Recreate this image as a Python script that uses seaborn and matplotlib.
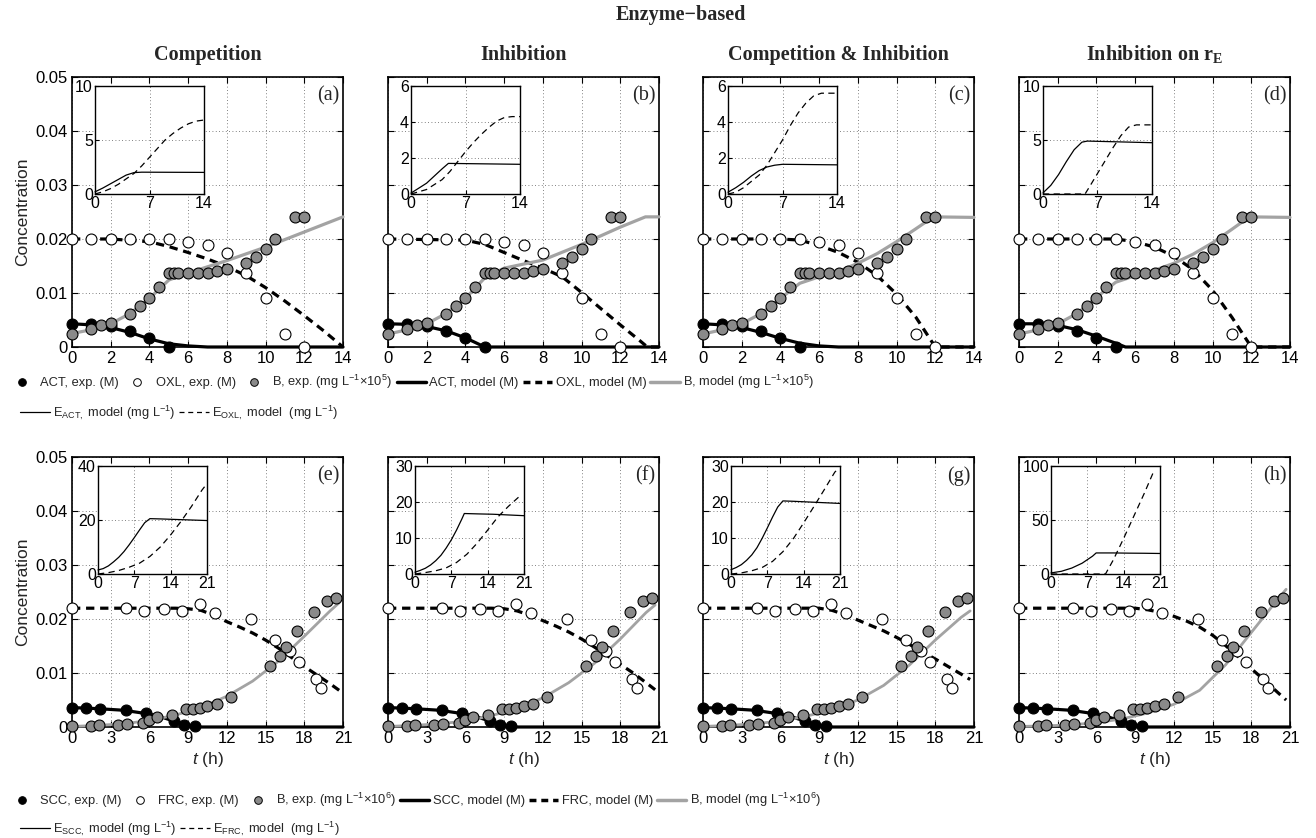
import matplotlib
matplotlib.use('Agg')
import matplotlib.pyplot as plt
import seaborn as sns
from matplotlib.lines import Line2D

sns.set_style('ticks')
plt.rcParams['font.family'] = ['Liberation Sans', 'DejaVu Sans']
plt.rcParams['mathtext.fontset'] = 'custom'
plt.rcParams['mathtext.rm'] = 'Liberation Sans'
plt.rcParams['mathtext.it'] = 'Liberation Sans:italic'
plt.rcParams['mathtext.bf'] = 'Liberation Sans:bold'

# ---- experimental data, top row (ACT / OXL), shared by panels a-d
act_t = [0, 1, 2, 3, 4, 5]
act_c = [0.0043, 0.0043, 0.0039, 0.0029, 0.0017, 0.0]
oxl_t = [0, 1, 2, 3, 4, 5, 6, 7, 8, 9, 10, 11, 12]
oxl_c = [0.02, 0.02, 0.02, 0.02, 0.02, 0.02, 0.0194, 0.0189, 0.0174, 0.0137, 0.0091, 0.0024, 0.0]
bt_t = [0, 1, 1.5, 2, 3, 3.5, 4, 4.5, 5, 5.25, 5.5, 6, 6.5, 7, 7.5, 8, 9, 9.5, 10, 10.5, 11.5, 12]
bt_c = [0.0024, 0.0033, 0.0040, 0.0044, 0.0061, 0.0075, 0.0090, 0.0111, 0.0137, 0.0137, 0.0137,
        0.0137, 0.0137, 0.0137, 0.0141, 0.0144, 0.0156, 0.0167, 0.0181, 0.0200, 0.0241, 0.0241]

# ---- experimental data, bottom row (SCC / FRC), shared by panels e-h
scc_t = [0, 1.1, 2.2, 4.2, 5.7, 7.9, 8.7, 9.5]
scc_c = [0.0035, 0.0035, 0.0034, 0.0031, 0.0026, 0.0011, 0.0003, 0.0002]
frc_t = [0, 4.2, 5.6, 7.1, 8.5, 9.9, 11.1, 13.9, 15.7, 16.9, 17.6, 18.9, 19.3]
frc_c = [0.022, 0.022, 0.0215, 0.0219, 0.0215, 0.0227, 0.0211, 0.0200, 0.0161, 0.0141, 0.0120, 0.0089, 0.0072]
bb_t = [0, 1.5, 2.1, 3.6, 4.3, 5.5, 6.0, 6.6, 7.75, 8.85, 9.4, 9.9, 10.5, 11.2, 12.3,
        15.35, 16.1, 16.6, 17.45, 18.75, 19.75, 20.45]
bb_c = [0.0002, 0.0002, 0.0003, 0.0004, 0.0006, 0.0008, 0.0013, 0.0018, 0.0022, 0.0033, 0.0033,
        0.0036, 0.0039, 0.0042, 0.0056, 0.0113, 0.0131, 0.0148, 0.0178, 0.0213, 0.0233, 0.0239]

# ---- model curves, top row (one list per panel a, b, c, d)
act_m_t = [[0, 1, 2, 3, 4, 5, 6, 7, 14], [0, 1, 2, 3, 4, 5, 14],
           [0, 1, 2, 3, 4, 5, 6, 7, 14], [0, 1, 2, 3, 4, 5, 5.5, 14]]
act_m_c = [[0.0043, 0.0041, 0.0036, 0.0027, 0.0015, 0.0006, 0.0002, 0.0, 0.0],
           [0.0043, 0.0042, 0.0038, 0.0030, 0.0017, 0.0, 0.0],
           [0.0043, 0.0041, 0.0036, 0.0027, 0.0016, 0.0007, 0.0002, 0.0, 0.0],
           [0.0043, 0.0043, 0.0040, 0.0032, 0.0020, 0.0007, 0.0, 0.0]]
oxl_m_t = [[0, 2, 4, 5, 6, 7, 8, 9, 10, 11, 12, 13, 14],
           [0, 4, 5, 6, 7, 8, 9, 10, 11, 12, 13, 13.4, 14],
           [0, 4, 5, 6, 7, 8, 9, 10, 11, 12, 14],
           [0, 5, 6, 7, 8, 9, 10, 11, 12, 14]]
oxl_m_c = [[0.02, 0.02, 0.0195, 0.0186, 0.0175, 0.0163, 0.0149, 0.0132, 0.0110, 0.0085, 0.0058, 0.0030, 0.0],
           [0.02, 0.0198, 0.0190, 0.0175, 0.0160, 0.0146, 0.0130, 0.0101, 0.0071, 0.0041, 0.0012, 0.0, 0.0],
           [0.02, 0.02, 0.0198, 0.0188, 0.0175, 0.0157, 0.0132, 0.0098, 0.0055, 0.0, 0.0],
           [0.02, 0.02, 0.0195, 0.0185, 0.0168, 0.0143, 0.0105, 0.0055, 0.0, 0.0]]
bt_m_t = [[0, 1, 2, 3, 4, 5, 6, 8, 10, 12, 14],
          [0, 1, 2, 3, 4, 5, 6, 8, 10, 12, 13.3, 14],
          [0, 1, 2, 3, 4, 5, 6, 7, 8, 9, 10, 11, 11.9, 14],
          [0, 1, 2, 3, 4, 5, 6, 7, 8, 9, 10, 11, 11.9, 14]]
bt_m_c = [[0.0025, 0.0032, 0.0043, 0.0062, 0.0090, 0.0124, 0.0137, 0.0160, 0.0185, 0.0213, 0.0241],
          [0.0024, 0.0032, 0.0043, 0.0062, 0.0090, 0.0128, 0.0146, 0.0161, 0.0190, 0.0222, 0.0241, 0.0241],
          [0.0024, 0.0032, 0.0043, 0.0062, 0.0090, 0.0118, 0.0130, 0.0140, 0.0155, 0.0173, 0.0195, 0.0219,
           0.0241, 0.0240],
          [0.0024, 0.0032, 0.0043, 0.0062, 0.0092, 0.0120, 0.0132, 0.0142, 0.0155, 0.0172, 0.0193, 0.0218,
           0.0241, 0.0240]]

# ---- enzyme insets, top row
eact_t = [[0, 1, 2, 3, 4, 5, 6, 14], [0, 2, 3, 4, 4.8, 14],
          [0, 1, 2, 3, 4, 5, 6, 7, 14], [0, 1, 2, 3, 4, 5, 5.7, 14]]
eact_v = [[0.2, 0.55, 0.95, 1.35, 1.75, 1.98, 2.02, 2.0], [0.05, 0.6, 1.0, 1.4, 1.7, 1.65],
          [0.1, 0.35, 0.65, 1.0, 1.3, 1.5, 1.6, 1.65, 1.62], [0.1, 0.8, 1.8, 3.0, 4.1, 4.8, 4.9, 4.75]]
eoxl_t = [[0, 1, 2, 3, 4, 5, 6, 7, 8, 9, 10, 11, 12, 13, 14],
          [0, 2, 4, 5, 6, 7, 8, 9, 10, 11, 12, 13, 14],
          [0, 1, 2, 3, 4, 5, 6, 7, 8, 9, 10, 11, 12, 13, 14],
          [0, 5.4, 6, 7, 8, 9, 10, 11, 12, 14]]
eoxl_v = [[0, 0.2, 0.5, 0.9, 1.4, 1.9, 2.6, 3.4, 4.2, 5.0, 5.6, 6.1, 6.5, 6.75, 6.85],
          [0, 0.25, 0.8, 1.25, 1.8, 2.35, 2.85, 3.3, 3.7, 4.05, 4.25, 4.3, 4.3],
          [0, 0.1, 0.35, 0.7, 1.05, 1.6, 2.3, 3.0, 3.8, 4.5, 5.05, 5.45, 5.6, 5.6, 5.6],
          [0, 0, 0.7, 1.9, 3.1, 4.3, 5.4, 6.2, 6.4, 6.4]]

# ---- model curves, bottom row (panels e, f, g, h)
scc_m_t = [[0, 2, 4, 6, 7, 8, 9, 9.6, 21]] * 4
scc_m_c = [[0.0036, 0.0034, 0.0031, 0.0024, 0.0018, 0.0010, 0.0003, 0.0, 0.0]] * 4
frc_m_t = [[0, 8, 9, 10, 11, 12, 13, 14, 15, 16, 17, 18, 19, 20, 20.7],
           [0, 8, 9, 10, 11, 12, 13, 14, 15, 16, 17, 18, 19, 20, 20.7],
           [0, 8, 9, 10, 11, 12, 13, 14, 15, 16, 17, 18, 19, 20, 20.7],
           [0, 9, 10, 11, 12, 13, 14, 15, 16, 17, 18, 19, 20, 20.7]]
frc_m_c = [[0.022, 0.022, 0.0219, 0.0216, 0.0207, 0.0195, 0.0185, 0.0174, 0.0161, 0.0146, 0.0129, 0.0112,
            0.0096, 0.0080, 0.0068],
           [0.022, 0.022, 0.0219, 0.0215, 0.0207, 0.0197, 0.0187, 0.0176, 0.0163, 0.0148, 0.0132, 0.0116,
            0.0100, 0.0082, 0.0069],
           [0.022, 0.022, 0.022, 0.0216, 0.0208, 0.0198, 0.0188, 0.0178, 0.0166, 0.0153, 0.0139, 0.0126,
            0.0112, 0.0098, 0.0088],
           [0.022, 0.022, 0.0217, 0.0212, 0.0205, 0.0196, 0.0185, 0.0170, 0.0151, 0.0130, 0.0108, 0.0087,
            0.0065, 0.0050]]
bb_m_t = [[0, 2, 4, 6, 8, 10, 12, 14, 16, 18, 20, 20.7]] * 4
bb_m_c = [[0.0001, 0.0003, 0.0006, 0.0012, 0.0022, 0.0036, 0.0057, 0.0085, 0.0122, 0.0168, 0.0215, 0.0230],
          [0.0001, 0.0003, 0.0006, 0.0011, 0.0021, 0.0034, 0.0054, 0.0082, 0.0118, 0.0163, 0.0212, 0.0226],
          [0.0001, 0.0003, 0.0006, 0.0011, 0.0020, 0.0032, 0.0050, 0.0077, 0.0115, 0.0161, 0.0203, 0.0215],
          [0.0001, 0.0002, 0.0004, 0.0008, 0.0015, 0.0026, 0.0042, 0.0068, 0.0115, 0.0175, 0.0235, 0.0255]]

# ---- enzyme insets, bottom row
escc_t = [[0, 1, 2, 3, 4, 5, 6, 7, 8, 9, 10, 12, 15, 18, 21],
          [0, 1, 2, 3, 4, 5, 6, 7, 8, 9, 9.5, 12, 15, 18, 21],
          [0, 1, 2, 3, 4, 5, 6, 7, 8, 9, 10, 12, 15, 18, 21],
          [0, 2, 4, 6, 8, 8.7, 12, 15, 18, 21]]
escc_v = [[1.5, 2.0, 3.0, 4.5, 6.2, 8.3, 10.8, 13.5, 16.3, 19.0, 20.5, 20.4, 20.2, 20.0, 19.8],
          [0.5, 1.0, 1.6, 2.5, 3.7, 5.2, 7.2, 9.5, 12.2, 15.2, 16.8, 16.7, 16.6, 16.4, 16.2],
          [1.2, 1.8, 2.6, 3.8, 5.3, 7.3, 9.9, 12.8, 15.8, 18.6, 20.3, 20.2, 20.0, 19.8, 19.6],
          [1.0, 2.5, 5.5, 10.0, 16.5, 19.5, 19.5, 19.3, 19.2, 19.0]]
efrc_t = [[0, 2, 4, 6, 8, 10, 12, 14, 16, 18, 20, 21],
          [0, 2, 4, 6, 8, 10, 12, 14, 16, 18, 20, 20.5],
          [0, 2, 4, 6, 8, 10, 12, 14, 16, 18, 20, 20.5],
          [0, 10.5, 12, 14, 16, 18, 19.7]]
efrc_v = [[0, 0.5, 1.3, 2.5, 4.0, 6.5, 10.0, 14.5, 19.5, 25.0, 31.0, 33.5],
          [0, 0.4, 0.9, 1.7, 3.2, 5.5, 8.6, 12.2, 15.9, 18.8, 21.4, 22.0],
          [0, 0.3, 0.9, 1.8, 3.5, 6.2, 9.8, 14.2, 18.8, 23.5, 28.3, 29.0],
          [0, 0, 13, 33, 54, 75, 94]]

col_titles = ['Competition', 'Inhibition', 'Competition & Inhibition', 'Inhibition on r$_{\\mathregular{E}}$']
letters_top = ['(a)', '(b)', '(c)', '(d)']
letters_bot = ['(e)', '(f)', '(g)', '(h)']
conc_ticks = [0, 0.01, 0.02, 0.03, 0.04, 0.05]
conc_labels = ['0', '0.01', '0.02', '0.03', '0.04', '0.05']
inset_top_max = [10, 6, 6, 10]
inset_top_ticks = [[0, 5, 10], [0, 2, 4, 6], [0, 2, 4, 6], [0, 5, 10]]
inset_bot_max = [40, 30, 30, 100]
inset_bot_ticks = [[0, 20, 40], [0, 10, 20, 30], [0, 10, 20, 30], [0, 50, 100]]

W, H = 1316, 838
fig = plt.figure(figsize=(W / 100, H / 100), dpi=100)

BLACK, WHITE, GREYM, GREYL = 'black', 'white', '#8a8a8a', '#a3a3a3'
THICK_DASH = (0, (2.6, 1.8))
THIN_DASH = (0, (5, 3.5))


def px_axes(x0, y0, x1, y1):
    return fig.add_axes([x0 / W, 1 - y1 / H, (x1 - x0) / W, (y1 - y0) / H])


def style(ax, lw=1.2):
    for s in ax.spines.values():
        s.set_linewidth(lw)
        s.set_color('black')
    ax.tick_params(direction='in', top=True, right=True, length=4, width=0.8, colors='black', pad=3)
    ax.grid(True, linestyle=(0, (1, 3)), color='0.35', linewidth=0.6)
    ax.set_axisbelow(True)


def line(ax, t, c, color, lw, ls='-', z=3):
    sns.lineplot(x=t, y=c, ax=ax, color=color, linewidth=lw, linestyle=ls,
                 estimator=None, sort=False, legend=False, zorder=z, clip_on=False)


def dots(ax, t, c, fc):
    sns.scatterplot(x=t, y=c, ax=ax, color=fc, edgecolor='black', linewidth=0.8, s=62,
                    zorder=5, clip_on=False, legend=False)


lefts = [72, 388, 703, 1019]
AW = 271
inset_left_top = [95, 411, 728, 1043]
inset_left_bot = [98, 415, 731, 1051]

for row in range(2):
    y0, y1 = (77, 347) if row == 0 else (457, 727)
    tmax = 14 if row == 0 else 21
    for k in range(4):
        ax = px_axes(lefts[k], y0, lefts[k] + AW, y1)
        style(ax)
        if row == 0:
            line(ax, act_m_t[k], act_m_c[k], BLACK, 2.3)
            line(ax, oxl_m_t[k], oxl_m_c[k], BLACK, 2.3, THICK_DASH)
            line(ax, bt_m_t[k], bt_m_c[k], GREYL, 2.3)
            dots(ax, act_t, act_c, BLACK)
            dots(ax, oxl_t, oxl_c, WHITE)
            dots(ax, bt_t, bt_c, GREYM)
            ax.set_xticks(range(0, 15, 2))
            ax.set_xlabel('')
        else:
            line(ax, scc_m_t[k], scc_m_c[k], BLACK, 2.3)
            line(ax, frc_m_t[k], frc_m_c[k], BLACK, 2.3, THICK_DASH)
            line(ax, bb_m_t[k], bb_m_c[k], GREYL, 2.0)
            dots(ax, scc_t, scc_c, BLACK)
            dots(ax, frc_t, frc_c, WHITE)
            dots(ax, bb_t, bb_c, GREYM)
            ax.set_xticks(range(0, 22, 3))
            ax.set_xlabel('$t$ (h)', fontsize=12.5, labelpad=2.5)
        ax.set_xlim(0, tmax)
        ax.set_ylim(0, 0.05)
        ax.set_yticks(conc_ticks)
        ax.tick_params(labelsize=12)
        if k == 0:
            ax.set_yticklabels(conc_labels)
            ax.set_ylabel('Concentration', fontsize=12.5, labelpad=4)
        else:
            ax.tick_params(labelleft=False)
            ax.set_ylabel('')
        letter = letters_top[k] if row == 0 else letters_bot[k]
        ax.text(0.988, 0.965, letter, transform=ax.transAxes, ha='right', va='top',
                family='Liberation Serif', fontsize=14.5)

        # inset with enzyme concentrations
        if row == 0:
            il, it = inset_left_top[k], 86
        else:
            il, it = inset_left_bot[k], 466
        ins = px_axes(il, it, il + 109, it + 108)
        ins.set_facecolor('white')
        style(ins, lw=1.0)
        ins.tick_params(top=False, right=False, length=3)
        if row == 0:
            line(ins, eact_t[k], eact_v[k], BLACK, 0.9)
            line(ins, eoxl_t[k], eoxl_v[k], BLACK, 0.9, THIN_DASH)
            ins.set_xticks([0, 7, 14])
            ins.set_ylim(0, inset_top_max[k])
            ins.set_yticks(inset_top_ticks[k])
        else:
            line(ins, escc_t[k], escc_v[k], BLACK, 0.9)
            line(ins, efrc_t[k], efrc_v[k], BLACK, 0.9, THIN_DASH)
            ins.set_xticks([0, 7, 14, 21])
            ins.set_ylim(0, inset_bot_max[k])
            ins.set_yticks(inset_bot_ticks[k])
        ins.set_xlim(0, tmax)
        ins.tick_params(labelsize=11.5, pad=1.5)
        ins.set_xlabel('')
        ins.set_ylabel('')

for k in range(4):
    xc = (lefts[k] + AW / 2) / W
    fig.text(xc, 1 - 55 / H, col_titles[k], ha='center', va='center',
             family='Liberation Serif', fontweight='bold', fontsize=14.5)
fig.text((72 + 1290) / 2 / W, 1 - 15 / H, 'Enzyme\u2212based', ha='center', va='center',
         family='Liberation Serif', fontweight='bold', fontsize=14.5)


def mk(fc):
    return Line2D([], [], ls='none', marker='o', markersize=5.5, markerfacecolor=fc,
                  markeredgecolor='black', markeredgewidth=0.7)


def ln(color, lw, ls='-'):
    return Line2D([], [], color=color, lw=lw, ls=ls)


leg_kw = dict(loc='center left', frameon=False, fontsize=9.3, handlelength=2.3,
              handletextpad=0.25, columnspacing=0.3, borderpad=0, borderaxespad=0)

h1 = [mk(BLACK), mk(WHITE), mk(GREYM), ln(BLACK, 2.5), ln(BLACK, 2.5, (0, (2.0, 1.4))), ln(GREYL, 2.5)]
top1 = ['ACT, exp. (M)', 'OXL, exp. (M)', 'B, exp. (mg L$^{-1}$\u00d710$^5$)',
        'ACT, model (M)', 'OXL, model (M)', 'B, model (mg L$^{-1}$\u00d710$^5$)']
bot1 = ['SCC, exp. (M)', 'FRC, exp. (M)', 'B, exp. (mg L$^{-1}$\u00d710$^6$)',
        'SCC, model (M)', 'FRC, model (M)', 'B, model (mg L$^{-1}$\u00d710$^6$)']
h2 = [ln(BLACK, 0.9), ln(BLACK, 0.9, (0, (4, 3)))]
top2 = ['E$_{\\mathregular{ACT},}$ model (mg L$^{-1}$)', 'E$_{\\mathregular{OXL},}$ model  (mg L$^{-1}$)']
bot2 = ['E$_{\\mathregular{SCC},}$ model (mg L$^{-1}$)', 'E$_{\\mathregular{FRC},}$ model  (mg L$^{-1}$)']

fig.legend(h1, top1, ncol=6, bbox_to_anchor=(7 / W, 1 - 382 / H), **leg_kw)
fig.legend(h2, top2, ncol=2, bbox_to_anchor=(20 / W, 1 - 413 / H), **leg_kw)
fig.legend(h1, bot1, ncol=6, bbox_to_anchor=(7 / W, 1 - 800 / H), **leg_kw)
fig.legend(h2, bot2, ncol=2, bbox_to_anchor=(20 / W, 1 - 829 / H), **leg_kw)

fig.savefig('out.png', dpi=100)
